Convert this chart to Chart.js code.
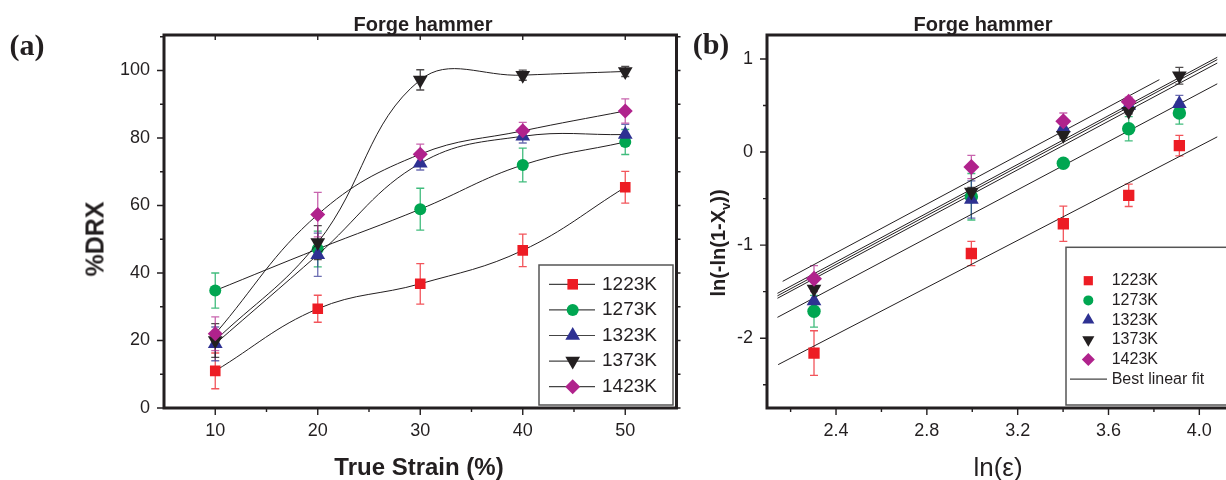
<!DOCTYPE html>
<html>
<head>
<meta charset="utf-8">
<script src="https://cdn.jsdelivr.net/npm/chart.js@4.4.0/dist/chart.umd.min.js"></script>
<style>
  html, body { margin: 0; padding: 0; background: #fff; }
  #page { position: relative; width: 1226px; height: 480px; overflow: hidden;
          font-family: "Liberation Sans", Arial, sans-serif; color: #231f20; }
  .box { position: absolute; top: 0; height: 480px; }
  #boxA { left: 0; width: 685px; }
  #boxB { left: 685px; width: 541px; }
  .lbl { position: absolute; white-space: nowrap; line-height: 1; transform: translate(-50%, -50%); }
  .rot { transform: translate(-50%, -50%) rotate(-90deg); }
  .panel { font-family: "Liberation Serif", "Times New Roman", serif; font-weight: bold; font-size: 30px; }
  .title { font-weight: bold; font-size: 20px; }
</style>
</head>
<body>
<div id="page">
  <div class="box" id="boxA"><canvas id="chartA"></canvas></div>
  <div class="box" id="boxB"><canvas id="chartB"></canvas></div>

  <div class="lbl panel" style="left:27px; top:45px;">(a)</div>
  <div class="lbl panel" style="left:711px; top:44px;">(b)</div>
  <div class="lbl title" style="left:423px; top:24px;">Forge hammer</div>
  <div class="lbl title" style="left:983px; top:24px;">Forge hammer</div>
  <div class="lbl rot" style="left:95px; top:239px; font-weight:bold; font-size:25px;">%DRX</div>
  <div class="lbl" style="left:419px; top:467px; font-weight:bold; font-size:24px;">True Strain (%)</div>
  <div class="lbl rot" style="left:720px; top:243px; font-weight:bold; font-size:20px;">ln(-ln(1-X<sub style="font-size:0.65em;">v</sub>))</div>
  <div class="lbl" style="left:998px; top:467px; font-size:26px;">ln(ε)</div>
</div>

<script>
// ---- données ----
const tempLabels = ['1223K', '1273K', '1323K', '1373K', '1423K'];

// painel (a): %DRX x deformação verdadeira
const strain = [10, 20, 30, 40, 50];
const drx1223 = [11, 29.4, 36.8, 46.7, 65.4];
const drx1273 = [34.8, 47.1, 58.9, 72, 78.8];
const drx1323 = [19, 45.4, 72.5, 80.5, 81];
const drx1373 = [20, 49, 97.2, 98.6, 99.7];
const drx1423 = [22, 57.3, 75.2, 82.1, 88];
const errDrx1223 = [5.3, 4, 6, 4.8, 4.7];
const errDrx1273 = [5.2, 5.3, 6.2, 5, 3.7];
const errDrx1323 = [5, 6.4, 2, 2, 3];
const errDrx1373 = [5, 5, 3, 1.5, 1.5];
const errDrx1423 = [5, 6.6, 3, 2.5, 3.6];

const xTicksA = [10, 20, 30, 40, 50];
const xMinorA = [15, 25, 35, 45];
const yTicksA = [0, 20, 40, 60, 80, 100];
const yMinorA = [10, 30, 50, 70, 90, 110];

// painel (b): ln(-ln(1-Xv)) x ln(strain)
const lnStrain = [2.303, 2.996, 3.401, 3.689, 3.912];
const ln1223 = [-2.16, -1.09, -0.77, -0.465, 0.07];
const ln1273 = [-1.71, -0.48, -0.12, 0.25, 0.42];
const ln1323 = [-1.6, -0.51, 0.26, 0.5, 0.52];
const ln1373 = [-1.47, -0.43, 0.18, 0.44, 0.82];
const ln1423 = [-1.36, -0.16, 0.33, 0.54, null];
const errLn1223 = [0.24, 0.13, 0.19, 0.12, 0.11];
const errLn1273 = [0.17, 0.25, 0.03, 0.13, 0.12];
const errLn1323 = [0.15, 0.2, 0.07, 0.05, 0.09];
const errLn1373 = [0.12, 0.05, 0.03, 0.03, 0.09];
const errLn1423 = [0.14, 0.125, 0.09, 0.05, null];

// retas de ajuste (início e fim)
const fitX0 = [2.145, 2.142, 2.142, 2.142, 2.142, 2.165];
const fitY0 = [-2.284, -1.776, -1.571, -1.545, -1.518, -1.389];
const fitX1 = [4.08, 4.08, 4.08, 4.08, 4.08, 3.824];
const fitY1 = [0.165, 0.735, 0.958, 0.995, 1.02, 0.778];

const xTicksB = [2.4, 2.8, 3.2, 3.6, 4.0];
const xMinorB = [2.2, 2.6, 3.0, 3.4, 3.8];
const yTicksB = [-2, -1, 0, 1];
const yMinorB = [-2.5, -1.5, -0.5, 0.5];

// ---- estilos ----
const ink = '#231f20';
const colors = ['#ed1c24', '#00a651', '#2e3192', '#231f20', '#b0228c'];
const errColors = ['rgba(237,28,36,0.75)', 'rgba(0,166,81,0.75)', 'rgba(46,49,146,0.7)',
                   'rgba(35,31,32,0.8)', 'rgba(176,34,140,0.7)'];
const styles = ['rect', 'circle', 'triangle', 'triangle', 'rectRot'];
const rotations = [0, 0, 0, 180, 0];
const radiiA = [7.5, 6, 8.5, 8.5, 7.5];
const radiiB = [8, 6.7, 8.5, 8.5, 8];
const tickFont = { family: '"Liberation Sans", Arial, sans-serif', size: 18 };

// Barras de erro desenhadas antes dos marcadores
const errorBars = {
    id: 'errorBars',
    beforeDatasetsDraw(chart) {
        const ctx = chart.ctx;
        const y = chart.scales.y;
        chart.data.datasets.forEach((ds, i) => {
            if (!ds.errorColor) return;
            const meta = chart.getDatasetMeta(i);
            ctx.save();
            ctx.strokeStyle = ds.errorColor;
            ctx.lineWidth = 1.3;
            meta.data.forEach((pt, j) => {
                const raw = ds.data[j];
                if (raw.e == null) return;
                const top = y.getPixelForValue(raw.y + raw.e);
                const bot = y.getPixelForValue(raw.y - raw.e);
                ctx.beginPath();
                ctx.moveTo(pt.x, top); ctx.lineTo(pt.x, bot);
                ctx.moveTo(pt.x - 4, top); ctx.lineTo(pt.x + 4, top);
                ctx.moveTo(pt.x - 4, bot); ctx.lineTo(pt.x + 4, bot);
                ctx.stroke();
            });
            ctx.restore();
        });
    }
};

// Legenda dentro da área do gráfico
const insetLegend = {
    id: 'insetLegend',
    afterDraw(chart, args, o) {
        const ctx = chart.ctx;
        ctx.save();
        ctx.fillStyle = '#fff';
        ctx.fillRect(o.x1, o.y1, o.x2 - o.x1, o.y2 - o.y1);
        ctx.strokeStyle = '#555';
        ctx.lineWidth = 1.5;
        ctx.strokeRect(o.x1, o.y1, o.x2 - o.x1, o.y2 - o.y1);
        ctx.font = o.font;
        ctx.textBaseline = 'middle';
        o.items.forEach((it, i) => {
            const yy = o.y0 + i * o.dy;
            if (it.line) {
                ctx.strokeStyle = '#444';
                ctx.lineWidth = 1.2;
                ctx.beginPath();
                ctx.moveTo(o.lx1, yy); ctx.lineTo(o.lx2, yy);
                ctx.stroke();
            }
            if (it.style) {
                ctx.fillStyle = it.color;
                Chart.helpers.drawPoint(ctx, { pointStyle: it.style, rotation: it.rot, radius: it.r, borderWidth: 0 }, o.mx, yy);
            }
            ctx.fillStyle = ink;
            ctx.fillText(it.label, o.tx, yy);
        });
        ctx.restore();
    }
};

// Moldura grossa e marcas de escala
const frameTicks = {
    id: 'frameTicks',
    afterDraw(chart, args, o) {
        const { ctx, chartArea: a, scales: { x, y } } = chart;
        ctx.save();
        ctx.strokeStyle = ink;
        ctx.lineWidth = 3;
        ctx.beginPath();
        if (o.fullBox) {
            ctx.rect(a.left, a.top, a.right - a.left, a.bottom - a.top);
        } else {
            ctx.moveTo(chart.width + 2, a.top);
            ctx.lineTo(a.left, a.top);
            ctx.lineTo(a.left, a.bottom);
            ctx.lineTo(chart.width + 2, a.bottom);
        }
        ctx.stroke();
        ctx.lineWidth = 1.4;
        ctx.beginPath();
        const xt = (v, len) => { const p = x.getPixelForValue(v); ctx.moveTo(p, a.bottom); ctx.lineTo(p, a.bottom + len); };
        const yt = (v, len) => { const p = y.getPixelForValue(v); ctx.moveTo(a.left, p); ctx.lineTo(a.left - len, p); };
        o.xMajor.forEach(v => xt(v, 7));
        o.xMinor.forEach(v => xt(v, 4));
        o.yMajor.forEach(v => yt(v, 7));
        o.yMinor.forEach(v => yt(v, 4));
        if (o.fullBox) {
            o.yMajor.concat(o.yMinor).forEach(v => {
                const p = y.getPixelForValue(v);
                ctx.moveTo(a.right, p); ctx.lineTo(a.right + 4, p);
            });
            o.xMajor.forEach(v => {
                const p = x.getPixelForValue(v);
                ctx.moveTo(p, a.top); ctx.lineTo(p, a.top + 5);
            });
        }
        ctx.stroke();
        ctx.restore();
    }
};

function axis(min, max, ticks, size, fmt, pad, fit) {
    return {
        type: 'linear', min, max,
        grid: { display: false, drawTicks: false },
        border: { display: false },
        ticks: { font: tickFont, color: ink, padding: pad, callback: fmt },
        afterBuildTicks: s => { s.ticks = ticks.map(v => ({ value: v })); },
        afterFit: fit
    };
}

// ---- painel (a) ----
const drxSeries = [drx1223, drx1273, drx1323, drx1373, drx1423];
const drxErrors = [errDrx1223, errDrx1273, errDrx1323, errDrx1373, errDrx1423];

new Chart(document.getElementById('chartA'), {
    type: 'line',
    data: {
        datasets: drxSeries.map((vals, i) => ({
            label: tempLabels[i],
            data: strain.map((x, j) => ({ x, y: vals[j], e: drxErrors[i][j] })),
            borderColor: ink,
            borderWidth: 1,
            tension: 0.4,
            pointStyle: styles[i],
            pointRotation: rotations[i],
            pointRadius: radiiA[i],
            pointBackgroundColor: colors[i],
            pointBorderWidth: 0,
            errorColor: errColors[i],
            order: 4 - i
        }))
    },
    options: {
        responsive: true,
        maintainAspectRatio: false,
        animation: false,
        layout: { padding: { left: 0, top: 35, right: 8, bottom: 0 } },
        scales: {
            x: axis(5, 55, xTicksA, 18, v => String(v), 12, s => { s.height = 72; }),
            y: axis(0, 110.5, yTicksA, 18, v => String(v), 14, s => { s.width = 164; })
        },
        plugins: {
            legend: { display: false },
            tooltip: { enabled: false },
            insetLegend: {
                x1: 539, y1: 265, x2: 673, y2: 405,
                y0: 284.3, dy: 25.6, lx1: 549, lx2: 595, mx: 572.7, tx: 602,
                font: '19px "Liberation Sans", Arial, sans-serif',
                items: tempLabels.map((label, i) => ({ label, line: true, style: styles[i], rot: rotations[i], r: radiiA[i], color: colors[i] }))
            },
            frameTicks: { fullBox: true, xMajor: xTicksA, xMinor: xMinorA, yMajor: yTicksA, yMinor: yMinorA }
        }
    },
    plugins: [errorBars, insetLegend, frameTicks]
});

// ---- painel (b) ----
const lnSeries = [ln1223, ln1273, ln1323, ln1373, ln1423];
const lnErrors = [errLn1223, errLn1273, errLn1323, errLn1373, errLn1423];

const pointSets = lnSeries.map((vals, i) => ({
    label: tempLabels[i],
    data: lnStrain.map((x, j) => ({ x, y: vals[j], e: lnErrors[i][j] })).filter(p => p.y !== null),
    showLine: false,
    pointStyle: styles[i],
    pointRotation: rotations[i],
    pointRadius: radiiB[i],
    pointBackgroundColor: colors[i],
    pointBorderWidth: 0,
    errorColor: errColors[i],
    order: 4 - i
}));

const fitSets = fitX0.map((x0, k) => ({
    label: 'fit' + k,
    data: [{ x: x0, y: fitY0[k] }, { x: fitX1[k], y: fitY1[k] }],
    showLine: true,
    borderColor: ink,
    borderWidth: 1,
    pointRadius: 0,
    order: 10
}));

new Chart(document.getElementById('chartB'), {
    type: 'scatter',
    data: { datasets: pointSets.concat(fitSets) },
    options: {
        responsive: true,
        maintainAspectRatio: false,
        animation: false,
        layout: { padding: { left: 0, top: 35, right: 0, bottom: 0 } },
        scales: {
            x: axis(2.096, 4.08, xTicksB, 18, v => v.toFixed(1), 12, s => { s.height = 72; }),
            y: axis(-2.75, 1.258, yTicksB, 18, v => String(v), 14, s => { s.width = 82; })
        },
        plugins: {
            legend: { display: false },
            tooltip: { enabled: false },
            insetLegend: {
                x1: 381, y1: 247.3, x2: 560, y2: 405,
                y0: 280.7, dy: 19.7, lx1: 385, lx2: 422, mx: 403.3, tx: 426.7,
                font: '16px "Liberation Sans", Arial, sans-serif',
                items: tempLabels.map((label, i) => ({ label, style: styles[i], rot: rotations[i], r: [6.5, 5, 7, 7, 6.5][i], color: colors[i] }))
                    .concat([{ label: 'Best linear fit', line: true }])
            },
            frameTicks: { fullBox: false, xMajor: xTicksB, xMinor: xMinorB, yMajor: yTicksB, yMinor: yMinorB }
        }
    },
    plugins: [errorBars, insetLegend, frameTicks]
});
</script>
</body>
</html>
